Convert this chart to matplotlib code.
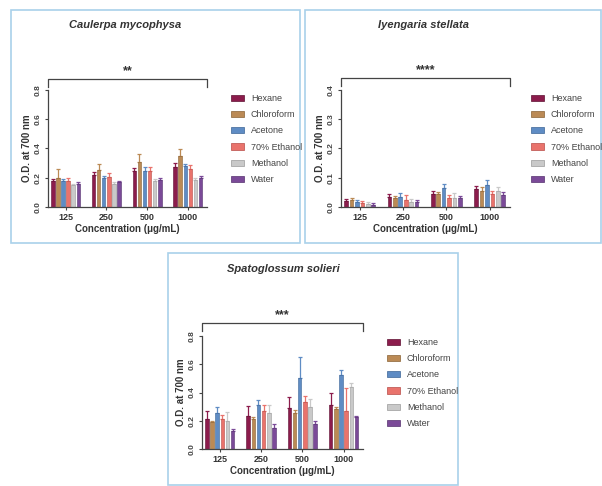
import numpy as np
import matplotlib
matplotlib.use("Agg")
import matplotlib.pyplot as plt
from matplotlib.patches import Rectangle, Patch

plt.rcParams['font.family'] = ['Liberation Sans', 'DejaVu Sans']

concs = ['125', '250', '500', '1000']
solvents = ['Hexane', 'Chloroform', 'Acetone', '70% Ethanol', 'Methanol', 'Water']
colors = ['#8c1c4c', '#bb8a55', '#5f8cc4', '#e9736c', '#c9c9c9', '#7b4a98']
edges = ['#5e0f32', '#8a6234', '#3c6496', '#b84c47', '#9a9a9a', '#55306e']

# rows = solvents, columns = concentrations
caulerpa = [[0.18, 0.22, 0.245, 0.275],
            [0.20, 0.25, 0.31, 0.35],
            [0.175, 0.195, 0.245, 0.28],
            [0.175, 0.205, 0.245, 0.26],
            [0.15, 0.16, 0.18, 0.185],
            [0.16, 0.17, 0.185, 0.20]]
caulerpa_err = [[0.01, 0.02, 0.02, 0.025],
                [0.06, 0.045, 0.05, 0.045],
                [0.015, 0.02, 0.03, 0.015],
                [0.02, 0.03, 0.03, 0.03],
                [0.01, 0.01, 0.01, 0.01],
                [0.01, 0.01, 0.01, 0.01]]

iyengaria = [[0.022, 0.035, 0.045, 0.06],
             [0.025, 0.03, 0.045, 0.055],
             [0.018, 0.035, 0.065, 0.075],
             [0.012, 0.025, 0.03, 0.045],
             [0.01, 0.018, 0.03, 0.055],
             [0.008, 0.018, 0.03, 0.04]]
iyengaria_err = [[0.006, 0.008, 0.01, 0.012],
                 [0.006, 0.008, 0.005, 0.012],
                 [0.006, 0.012, 0.015, 0.018],
                 [0.008, 0.015, 0.012, 0.01],
                 [0.006, 0.01, 0.018, 0.015],
                 [0.004, 0.005, 0.007, 0.012]]

spato = [[0.21, 0.235, 0.29, 0.31],
         [0.19, 0.21, 0.255, 0.28],
         [0.255, 0.31, 0.50, 0.525],
         [0.21, 0.27, 0.33, 0.27],
         [0.195, 0.255, 0.30, 0.44],
         [0.125, 0.15, 0.18, 0.225]]
spato_err = [[0.06, 0.07, 0.08, 0.085],
             [0.01, 0.015, 0.02, 0.02],
             [0.045, 0.04, 0.15, 0.035],
             [0.03, 0.04, 0.045, 0.16],
             [0.07, 0.06, 0.055, 0.025],
             [0.02, 0.025, 0.02, 0.01]]

W, H = 602, 486
fig = plt.figure(figsize=(6.02, 4.86), dpi=100)

def px_rect(x0, y0, x1, y1):
    # pixel box (top-left origin) -> figure fraction
    return [x0 / W, 1 - y1 / H, (x1 - x0) / W, (y1 - y0) / H]

# panel frames
for (x0, y0, x1, y1) in [(11, 10, 300, 243), (305, 10, 601, 243), (168, 253, 458, 485)]:
    l, b, w, h = px_rect(x0, y0, x1, y1)
    fig.patches.append(Rectangle((l, b), w, h, transform=fig.transFigure,
                                 fill=False, edgecolor='#a9d1ea', lw=1.2))


def panel(box, vals, errs, ymax, title, stars, bracket_y, title_xy, leg_xy):
    ax = fig.add_axes(px_rect(*box))
    x = np.arange(len(concs))
    pitch, bw = 0.125, 0.085
    for i, s in enumerate(solvents):
        pos = x + (i - 2.5) * pitch
        ax.bar(pos, vals[i], width=bw, color=colors[i], edgecolor=edges[i], lw=0.4, zorder=2)
        e = np.array(errs[i])
        ax.errorbar(pos, vals[i], yerr=[np.zeros_like(e), e], fmt='none',
                    ecolor=colors[i], elinewidth=0.9, capsize=1.5, capthick=0.9, zorder=1)
    ax.set_xlim(-0.43, 3.47)
    ax.set_ylim(0, ymax)
    step = ymax / 4
    ax.set_yticks(np.arange(0, ymax + step / 2, step))
    ax.set_yticklabels([f'{v:.1f}' for v in np.arange(0, ymax + step / 2, step)],
                       rotation=90, va='center', fontsize=6, fontweight='bold', color='#444444')
    ax.set_xticks(x)
    ax.set_xticklabels(concs, fontsize=6.5, fontweight='bold', color='#333333')
    ax.tick_params(axis='both', length=2.5, width=0.8, colors='#444444', pad=2)
    ax.tick_params(axis='x', labelcolor='#333333')
    for sp in ['top', 'right']:
        ax.spines[sp].set_visible(False)
    for sp in ['left', 'bottom']:
        ax.spines[sp].set_color('#444444')
        ax.spines[sp].set_linewidth(0.9)
    ax.set_xlabel('Concentration (μg/mL)', fontsize=7, fontweight='bold', labelpad=1, color='#333333')
    ax.set_ylabel('O.D. at 700 nm', fontsize=7, fontweight='bold', labelpad=2, color='#333333')

    # significance bracket
    ax.plot([0, 0, 1, 1], [bracket_y - 0.07, bracket_y, bracket_y, bracket_y - 0.07],
            transform=ax.transAxes, color='#444444', lw=0.9, clip_on=False)
    ax.text(0.5, bracket_y + 0.015, stars, transform=ax.transAxes, ha='center', va='bottom',
            fontsize=9, fontweight='bold', color='#333333')

    fig.text(title_xy[0] / W, 1 - title_xy[1] / H, title, ha='center', va='center',
             fontsize=8, fontweight='bold', style='italic', color='#333333')

    handles = [Patch(facecolor=colors[i], edgecolor=edges[i], lw=0.5) for i in range(len(solvents))]
    fig.legend(handles, solvents, loc='upper left',
               bbox_to_anchor=(leg_xy[0] / W, 1 - leg_xy[1] / H),
               frameon=False, fontsize=6.5, handlelength=1.4, handleheight=0.7,
               labelspacing=0.8, handletextpad=0.8, borderaxespad=0, borderpad=0,
               labelcolor='#444444')
    return ax


panel((48, 90, 207, 207), caulerpa, caulerpa_err, 0.8, 'Caulerpa mycophysa', '**', 1.094,
      (125, 25), (231, 94))
panel((341, 90, 510, 207), iyengaria, iyengaria_err, 0.4, 'Iyengaria stellata', '****', 1.10,
      (423, 25), (531, 94))
panel((202, 336, 363, 449), spato, spato_err, 0.8, 'Spatoglossum solieri', '***', 1.115,
      (283, 269), (387, 338))

fig.savefig('out.png', dpi=100)
